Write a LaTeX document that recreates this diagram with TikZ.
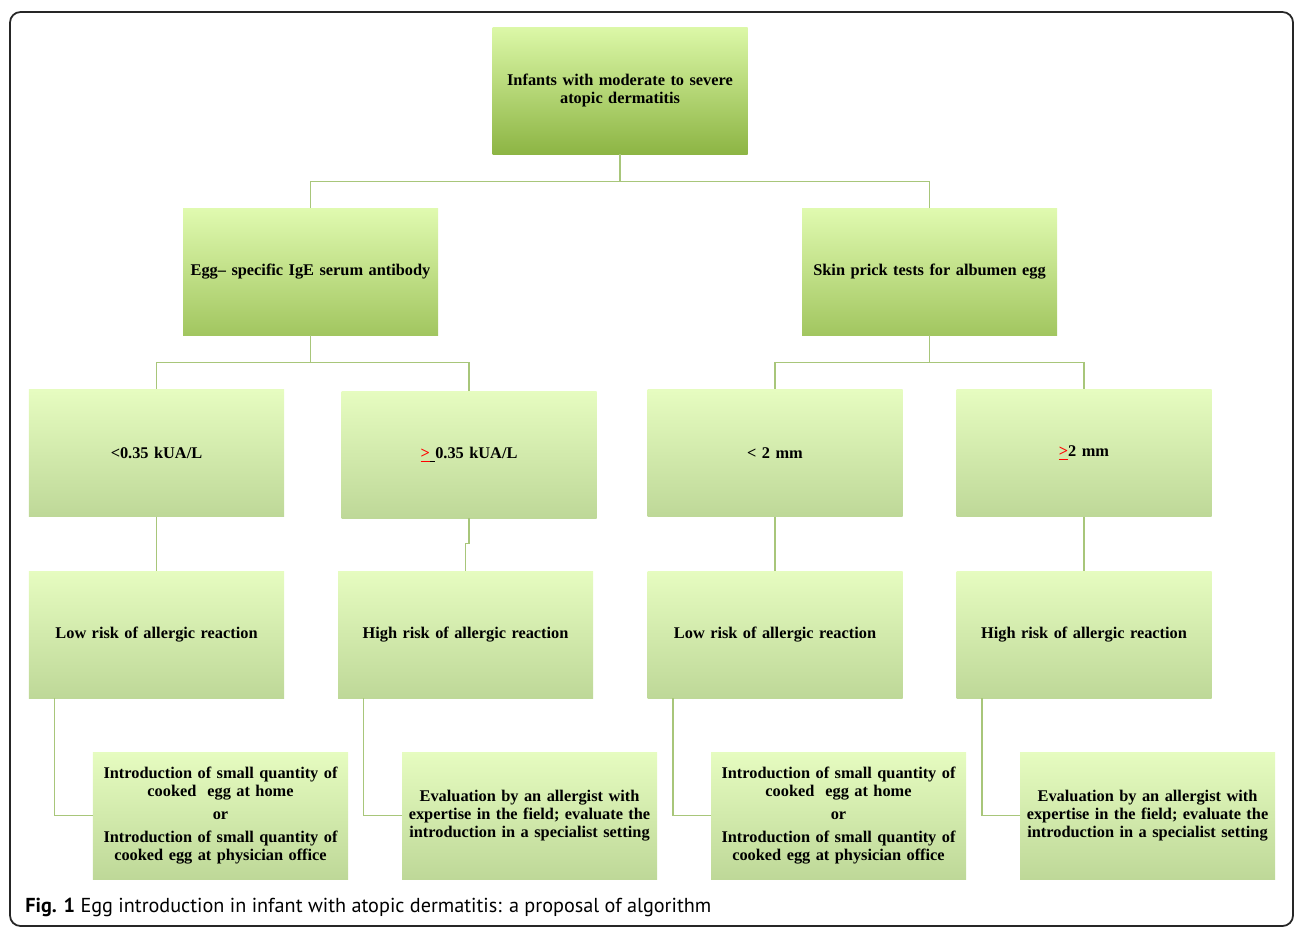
\documentclass[tikz,border=0pt]{standalone}
\usepackage{fontspec}
\setmainfont{Liberation Serif}
\newfontfamily\capfont{PT Sans}
\usepackage{xcolor}
\usetikzlibrary{calc}

\definecolor{linkgreen}{RGB}{168,198,122}
\definecolor{topA}{RGB}{220,248,168}
\definecolor{topB}{RGB}{141,181,68}
\definecolor{midA}{RGB}{224,250,176}
\definecolor{midB}{RGB}{162,198,96}
\definecolor{lowA}{RGB}{230,252,192}
\definecolor{lowB}{RGB}{190,216,152}

\newcommand{\redgeq}{{\color{red}\underline{>}}}

\begin{document}
\begin{tikzpicture}[
    x=0.2mm, y=-0.2mm,
    font=\fontsize{9.3}{10.25}\selectfont\bfseries,
    every node/.style = {align=center},
    box/.style    = {rectangle, minimum width=51mm, minimum height=25.4mm,
                     text width=50.5mm, inner sep=0pt},
    lvltop/.style = {box, top color=topA, bottom color=topB},
    lvlmid/.style = {box, top color=midA, bottom color=midB},
    lvllow/.style = {box, top color=lowA, bottom color=lowB},
    link/.style   = {draw=linkgreen, line width=0.8pt},
]
\useasboundingbox (0,0) rectangle (1295,929);

% ---------------- Frame ----------------
\draw[line width=1pt, draw=black!85, rounded corners=6pt] (10,12) rectangle (1293,926);

% ---------------- Root ----------------
\node[lvltop] (root) at (620,90.5) {Infants with moderate to severe\\atopic dermatitis};

% ---------------- Tests ----------------
\node[lvlmid] (ige)  at (310.5,271.5) {Egg-- specific IgE serum antibody};
\node[lvlmid] (skin) at (929.5,271.5) {Skin prick tests for albumen egg};

% ---------------- Thresholds ----------------
\node[lvllow] (igelo) at (156.5,453) {<0.35 kUA/L};
\node[lvllow] (igehi) at (469,454.5) {\redgeq\underline{\ }0.35 kUA/L};
\node[lvllow] (sklo)  at (775,453)   {< 2 mm};
\node[lvllow] (skhi)  at (1084,453)  {\redgeq 2 mm};

% ---------------- Risk ----------------
\node[lvllow] (risk1) at (156.5,634.5) {Low risk of allergic reaction};
\node[lvllow] (risk2) at (465.5,634.5) {High risk of allergic reaction};
\node[lvllow] (risk3) at (775,634.5)   {Low risk of allergic reaction};
\node[lvllow] (risk4) at (1084,634.5)  {High risk of allergic reaction};

% ---------------- Actions ----------------
\node[lvllow] (act1) at (220.5,815.5) {Introduction of small quantity of\\cooked\ \ egg at home\\[3pt]or\\[3pt]Introduction of small quantity of\\cooked egg at physician office};
\node[lvllow] (act2) at (529.5,815.5) {Evaluation by an allergist with\\expertise in the field; evaluate the\\introduction in a specialist setting};
\node[lvllow] (act3) at (838.5,815.5) {Introduction of small quantity of\\cooked\ \ egg at home\\[3pt]or\\[3pt]Introduction of small quantity of\\cooked egg at physician office};
\node[lvllow] (act4) at (1147.5,815.5) {Evaluation by an allergist with\\expertise in the field; evaluate the\\introduction in a specialist setting};

% ---------------- Links ----------------
\draw[link] (root.south) -- ++(0,27) -| (ige.north);
\draw[link] (root.south) -- ++(0,27) -| (skin.north);

\draw[link] (ige.south) -- ++(0,27) -| (igelo.north);
\draw[link] (ige.south) -- ++(0,27) -| (igehi.north);
\draw[link] (skin.south) -- ++(0,27) -| (sklo.north);
\draw[link] (skin.south) -- ++(0,27) -| (skhi.north);

\draw[link] (igelo.south) -- (risk1.north);
\draw[link] (igehi.south) -- ++(0,25) -| (risk2.north);
\draw[link] (sklo.south) -- (risk3.north);
\draw[link] (skhi.south) -- (risk4.north);

\draw[link] ($(risk1.south west)+(26,0)$) |- (act1.west);
\draw[link] ($(risk2.south west)+(26,0)$) |- (act2.west);
\draw[link] ($(risk3.south west)+(26,0)$) |- (act3.west);
\draw[link] ($(risk4.south west)+(26,0)$) |- (act4.west);

% ---------------- Caption ----------------
\node[anchor=base west, inner sep=0pt, font=\capfont\fontsize{11.5}{13}\selectfont] (cap) at (25,912)
    {\textbf{Fig. 1} Egg introduction in infant with atopic dermatitis: a proposal of algorithm};

\end{tikzpicture}
\end{document}
